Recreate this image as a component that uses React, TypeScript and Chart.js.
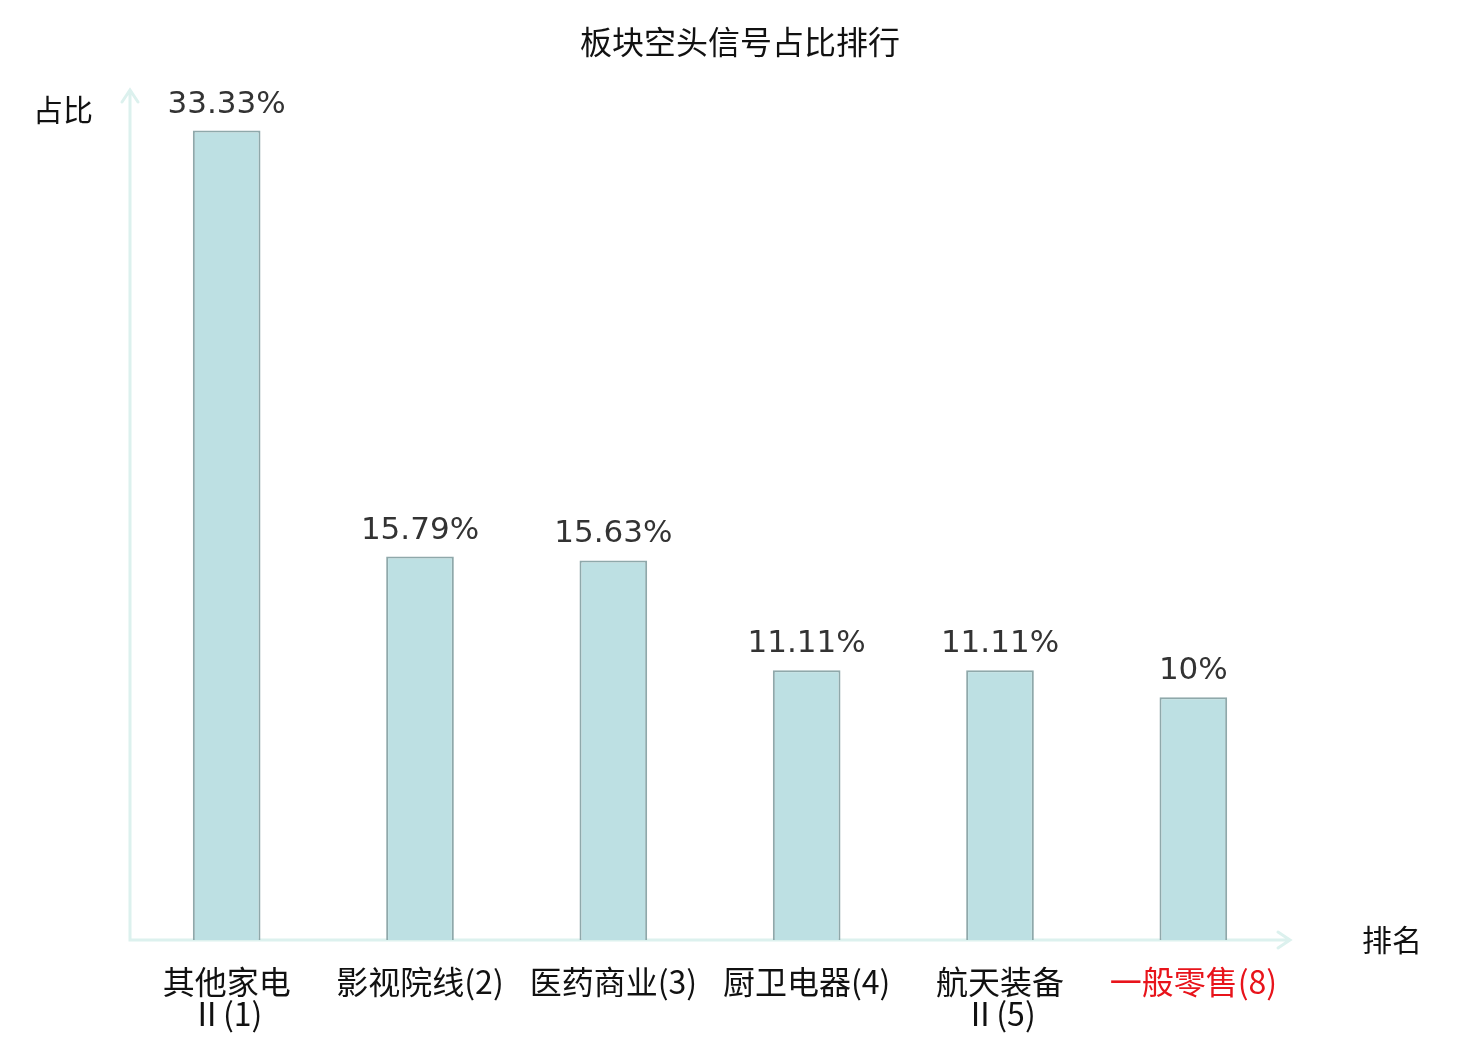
import { useEffect, useRef } from "react";
import { Chart, registerables } from "chart.js";

Chart.register(...registerables);

const categories: (string | string[])[] = [
  ["其他家电", "Ⅱ(1)"],
  "影视院线(2)",
  "医药商业(3)",
  "厨卫电器(4)",
  ["航天装备", "Ⅱ(5)"],
  "一般零售(8)",
];
const shares = [33.33, 15.79, 15.63, 11.11, 11.11, 10];
const shareLabels = ["33.33%", "15.79%", "15.63%", "11.11%", "11.11%", "10%"];
const highlighted = [false, false, false, false, false, true];
const yMax = 35;
const chartTitle = "板块空头信号占比排行";

const CJK = "'Noto Sans CJK SC', 'Noto Sans', sans-serif";
const NUM = "'DejaVu Sans', 'Noto Sans CJK SC', sans-serif";
const AXIS_COLOR = "#dcf1ee";

// title, axes with arrow heads and axis names, drawn under the bars
const arrowAxes = {
  id: "arrowAxes",
  beforeDatasetsDraw(chart: any) {
    const { ctx, chartArea: a } = chart;
    ctx.save();
    ctx.strokeStyle = AXIS_COLOR;
    ctx.lineWidth = 3;
    ctx.lineCap = "round";
    ctx.beginPath();
    ctx.moveTo(a.left, a.top);
    ctx.lineTo(a.left, a.bottom);
    ctx.lineTo(a.right, a.bottom);
    // y arrow
    ctx.moveTo(a.left - 8, a.top + 12);
    ctx.lineTo(a.left, a.top);
    ctx.lineTo(a.left + 8, a.top + 12);
    // x arrow
    ctx.moveTo(a.right - 12, a.bottom - 8);
    ctx.lineTo(a.right, a.bottom);
    ctx.lineTo(a.right - 12, a.bottom + 8);
    ctx.stroke();

    ctx.fillStyle = "#111";
    ctx.textBaseline = "middle";
    ctx.font = `32px ${CJK}`;
    ctx.textAlign = "center";
    ctx.fillText(chartTitle, chart.width / 2, 42);
    ctx.font = `30px ${CJK}`;
    ctx.textAlign = "right";
    ctx.fillText("占比", a.left - 37, a.top + 20);
    ctx.textAlign = "left";
    ctx.fillText("排名", a.right + 72, a.bottom);
    ctx.restore();
  },
};

const valueLabels = {
  id: "valueLabels",
  afterDatasetsDraw(chart: any) {
    const { ctx } = chart;
    const meta = chart.getDatasetMeta(0);
    ctx.save();
    ctx.fillStyle = "#333";
    ctx.font = `31px ${NUM}`;
    ctx.textAlign = "center";
    ctx.textBaseline = "alphabetic";
    meta.data.forEach((el: any, i: number) => {
      ctx.fillText(shareLabels[i], el.x, el.y - 18);
    });
    ctx.restore();
  },
};

function ShareChart() {
  const canvasRef = useRef<HTMLCanvasElement>(null);

  useEffect(() => {
    if (!canvasRef.current) return;
    const chart = new Chart(canvasRef.current, {
      type: "bar",
      data: {
        labels: categories,
        datasets: [
          {
            data: shares,
            backgroundColor: "#bde0e3",
            borderColor: "#8fa8aa",
            borderWidth: 2,
            categoryPercentage: 1,
            barPercentage: 0.35,
          },
        ],
      },
      options: {
        responsive: true,
        maintainAspectRatio: false,
        animation: false,
        layout: { padding: { left: 130, right: 190, top: 90, bottom: -16 } },
        plugins: {
          legend: { display: false },
          tooltip: { enabled: false },
          title: { display: false },
        },
        scales: {
          x: {
            grid: { display: false, drawTicks: false },
            border: { display: false },
            ticks: {
              autoSkip: false,
              maxRotation: 0,
              padding: 26,
              font: { family: CJK, size: 32, lineHeight: 1.0 },
              color: (c: any) => (highlighted[c.index] ? "#e8141b" : "#111"),
            },
          },
          y: { display: false, min: 0, max: yMax },
        },
      },
      plugins: [arrowAxes, valueLabels],
    });
    return () => chart.destroy();
  }, []);

  return (
    <div style={{ position: "absolute", left: 0, top: 0, width: 1480, height: 1040, background: "#fff" }}>
      <canvas ref={canvasRef} />
    </div>
  );
}

export default function App() {
  return <ShareChart />;
}
